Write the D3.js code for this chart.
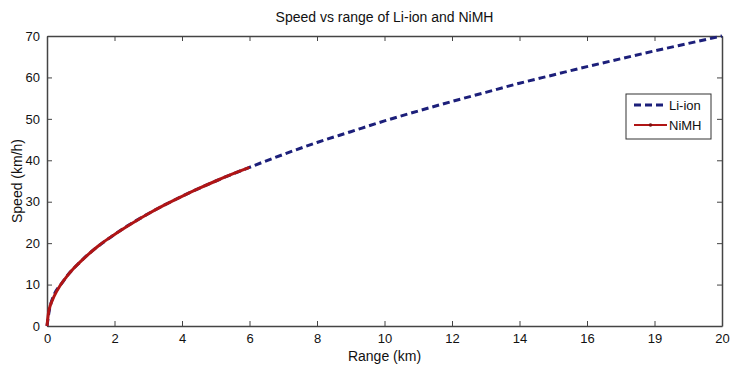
<!DOCTYPE html>
<meta charset="utf-8">
<style>
body { margin: 0; background: #fff; }
text { font-family: "Liberation Sans", Arial, sans-serif; fill: #111; }
.axis path, .axis line { stroke: #444; }
</style>
<html>
<body>
<script src="https://cdn.jsdelivr.net/npm/d3@7"></script>
<script>
// values
var nimhRange = [0, 0.05, 0.1, 0.2, 0.4, 0.6, 0.8, 1, 1.5, 2, 2.5, 3, 3.5, 4, 4.5, 5, 5.5, 6];
var nimhSpeed = [0, 3.5, 5, 7, 9.9, 12.1, 14, 15.6, 19.2, 22.1, 24.7, 27.1, 29.3, 31.3, 33.2, 35, 36.7, 38.3];
var liRange = [0, 0.1, 0.5, 1, 2, 3, 4, 5, 6, 7, 8, 9, 10, 11, 12, 13, 14, 15, 16, 17, 18, 19, 20];
var liSpeed = [0, 5, 11, 15.6, 22.1, 27.1, 31.3, 35, 38.3, 41.4, 44.3, 46.9, 49.5, 51.9, 54.2, 56.4, 58.6, 60.6, 62.6, 64.5, 66.4, 68.2, 70];
var xTicks = [0, 2, 4, 6, 8, 10, 12, 14, 16, 18, 20];
var xTickLabels = ["0", "2", "4", "6", "8", "10", "12", "14", "16", "19", "20"];
var yTicks = [0, 10, 20, 30, 40, 50, 60, 70];
var seriesNames = ["Li-ion", "NiMH"];

var W = 735, H = 372;
var margin = {top: 36, right: 13, bottom: 46, left: 47};
var width = W - margin.left - margin.right,
    height = H - margin.top - margin.bottom;

var svg = d3.select("body").append("svg")
    .attr("width", W)
    .attr("height", H);

var g = svg.append("g")
    .attr("transform", "translate(" + margin.left + "," + margin.top + ")");

var x = d3.scaleLinear().domain([0, 20]).range([0, width]);
var y = d3.scaleLinear().domain([0, 70]).range([height, 0]);

// axes, ticks pointing inward like matlab
g.append("g").attr("class", "axis")
    .attr("transform", "translate(0," + height + ")")
    .call(d3.axisBottom(x).tickValues(xTicks).tickSizeInner(-5).tickSizeOuter(0).tickPadding(8)
        .tickFormat(function(d, i) { return xTickLabels[i]; }))
    .selectAll("text").style("font-size", "13px");

g.append("g").attr("class", "axis")
    .call(d3.axisLeft(y).tickValues(yTicks).tickSizeInner(-5).tickSizeOuter(0).tickPadding(7))
    .selectAll("text").style("font-size", "13px");

g.append("g").attr("class", "axis")
    .call(d3.axisTop(x).tickValues(xTicks).tickSizeInner(-5).tickSizeOuter(0).tickFormat(""));

g.append("g").attr("class", "axis")
    .attr("transform", "translate(" + width + ",0)")
    .call(d3.axisRight(y).tickValues(yTicks).tickSizeInner(-5).tickSizeOuter(0).tickFormat(""));

g.selectAll(".axis path").attr("stroke-width", 1.5);

var line = d3.line()
    .x(function(d) { return x(d[0]); })
    .y(function(d) { return y(d[1]); })
    .curve(d3.curveMonotoneX);

var liData = d3.zip(liRange, liSpeed);
var nimhData = d3.zip(nimhRange, nimhSpeed);

g.append("path")
    .datum(liData)
    .attr("fill", "none")
    .attr("stroke", "#1c1f7a")
    .attr("stroke-width", 3)
    .attr("stroke-dasharray", "7,4")
    .attr("d", line);

g.append("path")
    .datum(nimhData)
    .attr("fill", "none")
    .attr("stroke", "#b01515")
    .attr("stroke-width", 3)
    .attr("d", line);

// legend
var leg = svg.append("g").attr("transform", "translate(626,94)");
leg.append("rect")
    .attr("width", 85).attr("height", 45)
    .attr("fill", "#fff").attr("stroke", "#333").attr("stroke-width", 1);

leg.append("line")
    .attr("x1", 8).attr("x2", 41).attr("y1", 11).attr("y2", 11)
    .attr("stroke", "#1c1f7a").attr("stroke-width", 3).attr("stroke-dasharray", "7,4");
leg.append("line")
    .attr("x1", 8).attr("x2", 41).attr("y1", 31).attr("y2", 31)
    .attr("stroke", "#b01515").attr("stroke-width", 2);
leg.append("circle")
    .attr("cx", 24.5).attr("cy", 31).attr("r", 1.8).attr("fill", "#7a1010");

leg.selectAll("text.lg")
    .data(seriesNames)
    .enter().append("text")
    .attr("class", "lg")
    .attr("x", 43)
    .attr("y", function(d, i) { return 16 + i * 20; })
    .style("font-size", "13px")
    .text(function(d) { return d; });

// title and labels
svg.append("text")
    .attr("x", margin.left + width / 2).attr("y", 22)
    .attr("text-anchor", "middle")
    .style("font-size", "14px")
    .text("Speed vs range of Li-ion and NiMH");

svg.append("text")
    .attr("x", margin.left + width / 2).attr("y", 361)
    .attr("text-anchor", "middle")
    .style("font-size", "14px")
    .text("Range (km)");

svg.append("text")
    .attr("transform", "translate(22," + (margin.top + height / 2) + ")rotate(-90)")
    .attr("text-anchor", "middle")
    .style("font-size", "14px")
    .text("Speed (km/h)");
</script>
</body>
</html>
